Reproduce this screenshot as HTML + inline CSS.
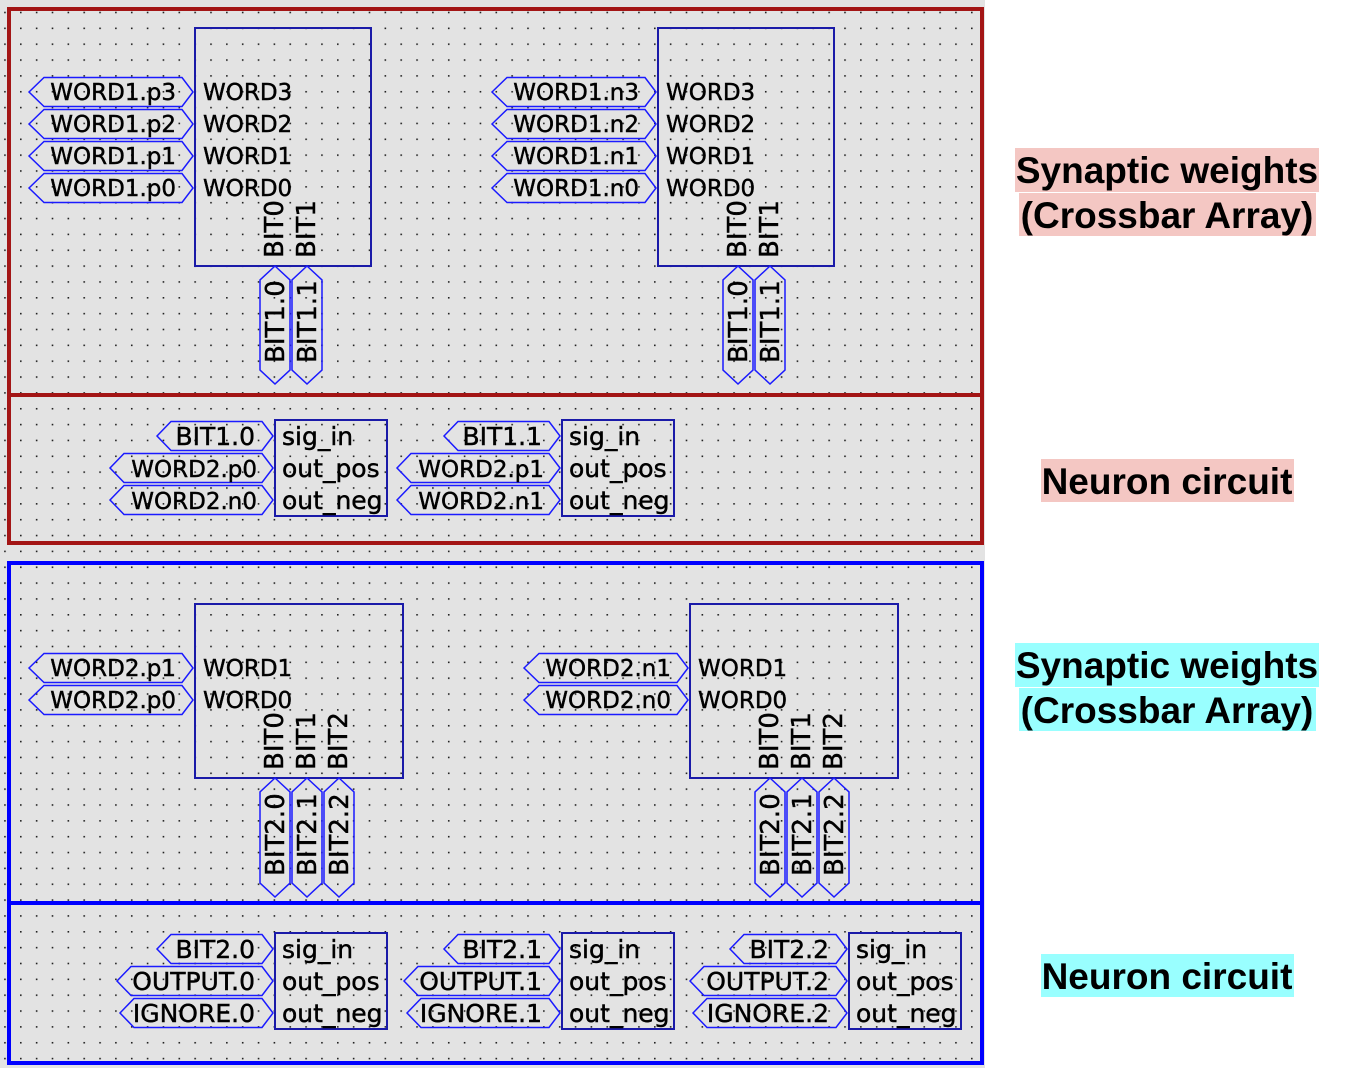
<!DOCTYPE html>
<html><head><meta charset="utf-8"><style>
html,body{margin:0;padding:0;background:#fff;}
svg{display:block;}
.t{font-family:"DejaVu Sans","Liberation Sans",sans-serif;font-size:23px;fill:#000;stroke:#000;stroke-width:0.45;}
.n{font-size:25px;}
.v{font-size:26px;}
.tag{fill:none;stroke:#1a1aff;stroke-width:1.5;}
.box{fill:none;stroke:#1a1aa8;stroke-width:2;}
.big{font-family:"Liberation Sans",Arial,sans-serif;font-weight:bold;font-size:37px;fill:#000;}
</style></head><body>
<svg width="1352" height="1068" viewBox="0 0 1352 1068" xmlns="http://www.w3.org/2000/svg">
<defs>
<pattern id="g" x="20" y="11.7" width="15.85" height="15.85" patternUnits="userSpaceOnUse">
<rect x="0" y="0" width="1.6" height="1.6" fill="#222"/>
</pattern>
</defs>
<rect x="0" y="0" width="985" height="1068" fill="#e3e3e3"/>
<rect x="0" y="0" width="985" height="1068" fill="url(#g)"/>

<rect x="9" y="9" width="973" height="534" fill="none" stroke="#a31515" stroke-width="4"/>
<line x1="9" y1="395" x2="982" y2="395" stroke="#a31515" stroke-width="4"/>
<rect x="9" y="563" width="973" height="500" fill="none" stroke="#0000ff" stroke-width="4"/>
<line x1="9" y1="903" x2="982" y2="903" stroke="#0000ff" stroke-width="4"/>

<!-- TOP LEFT crossbar -->
<rect class="box" x="195" y="28" width="176" height="238"/>
<polygon class="tag" points="29,92 44,77.5 182,77.5 193,92 182,106.5 44,106.5"/>
<polygon class="tag" points="29,124 44,109.5 182,109.5 193,124 182,138.5 44,138.5"/>
<polygon class="tag" points="29,156 44,141.5 182,141.5 193,156 182,170.5 44,170.5"/>
<polygon class="tag" points="29,188 44,173.5 182,173.5 193,188 182,202.5 44,202.5"/>
<text class="t" x="176" y="100" text-anchor="end">WORD1.p3</text>
<text class="t" x="176" y="132" text-anchor="end">WORD1.p2</text>
<text class="t" x="176" y="164" text-anchor="end">WORD1.p1</text>
<text class="t" x="176" y="196" text-anchor="end">WORD1.p0</text>
<text class="t" x="203" y="100">WORD3</text>
<text class="t" x="203" y="132">WORD2</text>
<text class="t" x="203" y="164">WORD1</text>
<text class="t" x="203" y="196">WORD0</text>
<text class="t v" transform="translate(283,258) rotate(-90)">BIT0</text>
<text class="t v" transform="translate(315,258) rotate(-90)">BIT1</text>
<polygon class="tag" points="275,266 290,280 290,370 275,384 260,370 260,280"/>
<polygon class="tag" points="307,266 322,280 322,370 307,384 292,370 292,280"/>
<text class="t v" transform="translate(284,363) rotate(-90)">BIT1.0</text>
<text class="t v" transform="translate(316,363) rotate(-90)">BIT1.1</text>

<!-- TOP RIGHT crossbar -->
<rect class="box" x="658" y="28" width="176" height="238"/>
<polygon class="tag" points="492,92 507,77.5 645,77.5 656,92 645,106.5 507,106.5"/>
<polygon class="tag" points="492,124 507,109.5 645,109.5 656,124 645,138.5 507,138.5"/>
<polygon class="tag" points="492,156 507,141.5 645,141.5 656,156 645,170.5 507,170.5"/>
<polygon class="tag" points="492,188 507,173.5 645,173.5 656,188 645,202.5 507,202.5"/>
<text class="t" x="639" y="100" text-anchor="end">WORD1.n3</text>
<text class="t" x="639" y="132" text-anchor="end">WORD1.n2</text>
<text class="t" x="639" y="164" text-anchor="end">WORD1.n1</text>
<text class="t" x="639" y="196" text-anchor="end">WORD1.n0</text>
<text class="t" x="666" y="100">WORD3</text>
<text class="t" x="666" y="132">WORD2</text>
<text class="t" x="666" y="164">WORD1</text>
<text class="t" x="666" y="196">WORD0</text>
<text class="t v" transform="translate(746,258) rotate(-90)">BIT0</text>
<text class="t v" transform="translate(778,258) rotate(-90)">BIT1</text>
<polygon class="tag" points="738,266 753,280 753,370 738,384 723,370 723,280"/>
<polygon class="tag" points="770,266 785,280 785,370 770,384 755,370 755,280"/>
<text class="t v" transform="translate(747,363) rotate(-90)">BIT1.0</text>
<text class="t v" transform="translate(779,363) rotate(-90)">BIT1.1</text>

<!-- NEURONS row 1 -->
<rect class="box" x="275" y="420" width="112" height="96"/>
<polygon class="tag" points="157,436 171,421.5 262,421.5 273,436 262,450.5 171,450.5"/>
<polygon class="tag" points="110,468 124,453.5 262,453.5 273,468 262,482.5 124,482.5"/>
<polygon class="tag" points="110,500 124,485.5 262,485.5 273,500 262,514.5 124,514.5"/>
<text class="t n" x="255" y="445" text-anchor="end">BIT1.0</text>
<text class="t" x="257" y="477" text-anchor="end">WORD2.p0</text>
<text class="t" x="257" y="509" text-anchor="end">WORD2.n0</text>
<text class="t n" x="282" y="445">sig_in</text>
<text class="t n" x="282" y="477">out_pos</text>
<text class="t n" x="282" y="509">out_neg</text>

<rect class="box" x="562" y="420" width="112" height="96"/>
<polygon class="tag" points="444,436 458,421.5 549,421.5 560,436 549,450.5 458,450.5"/>
<polygon class="tag" points="397,468 411,453.5 549,453.5 560,468 549,482.5 411,482.5"/>
<polygon class="tag" points="397,500 411,485.5 549,485.5 560,500 549,514.5 411,514.5"/>
<text class="t n" x="542" y="445" text-anchor="end">BIT1.1</text>
<text class="t" x="544" y="477" text-anchor="end">WORD2.p1</text>
<text class="t" x="544" y="509" text-anchor="end">WORD2.n1</text>
<text class="t n" x="569" y="445">sig_in</text>
<text class="t n" x="569" y="477">out_pos</text>
<text class="t n" x="569" y="509">out_neg</text>

<!-- BOTTOM LEFT crossbar -->
<rect class="box" x="195" y="604" width="208" height="174"/>
<polygon class="tag" points="29,668 44,653.5 182,653.5 193,668 182,682.5 44,682.5"/>
<polygon class="tag" points="29,700 44,685.5 182,685.5 193,700 182,714.5 44,714.5"/>
<text class="t" x="176" y="676" text-anchor="end">WORD2.p1</text>
<text class="t" x="176" y="708" text-anchor="end">WORD2.p0</text>
<text class="t" x="203" y="676">WORD1</text>
<text class="t" x="203" y="708">WORD0</text>
<text class="t v" transform="translate(283,770) rotate(-90)">BIT0</text>
<text class="t v" transform="translate(315,770) rotate(-90)">BIT1</text>
<text class="t v" transform="translate(347,770) rotate(-90)">BIT2</text>
<polygon class="tag" points="275,778 290,792 290,883 275,897 260,883 260,792"/>
<polygon class="tag" points="307,778 322,792 322,883 307,897 292,883 292,792"/>
<polygon class="tag" points="339,778 354,792 354,883 339,897 324,883 324,792"/>
<text class="t v" transform="translate(284,876) rotate(-90)">BIT2.0</text>
<text class="t v" transform="translate(316,876) rotate(-90)">BIT2.1</text>
<text class="t v" transform="translate(348,876) rotate(-90)">BIT2.2</text>

<!-- BOTTOM RIGHT crossbar -->
<rect class="box" x="690" y="604" width="208" height="174"/>
<polygon class="tag" points="524,668 539,653.5 677,653.5 688,668 677,682.5 539,682.5"/>
<polygon class="tag" points="524,700 539,685.5 677,685.5 688,700 677,714.5 539,714.5"/>
<text class="t" x="671" y="676" text-anchor="end">WORD2.n1</text>
<text class="t" x="671" y="708" text-anchor="end">WORD2.n0</text>
<text class="t" x="698" y="676">WORD1</text>
<text class="t" x="698" y="708">WORD0</text>
<text class="t v" transform="translate(778,770) rotate(-90)">BIT0</text>
<text class="t v" transform="translate(810,770) rotate(-90)">BIT1</text>
<text class="t v" transform="translate(842,770) rotate(-90)">BIT2</text>
<polygon class="tag" points="770,778 785,792 785,883 770,897 755,883 755,792"/>
<polygon class="tag" points="802,778 817,792 817,883 802,897 787,883 787,792"/>
<polygon class="tag" points="834,778 849,792 849,883 834,897 819,883 819,792"/>
<text class="t v" transform="translate(779,876) rotate(-90)">BIT2.0</text>
<text class="t v" transform="translate(811,876) rotate(-90)">BIT2.1</text>
<text class="t v" transform="translate(843,876) rotate(-90)">BIT2.2</text>

<!-- NEURONS row 2 -->
<rect class="box" x="275" y="933" width="112" height="96"/>
<polygon class="tag" points="157,949 171,934.5 262,934.5 273,949 262,963.5 171,963.5"/>
<polygon class="tag" points="117,981 131,966.5 262,966.5 273,981 262,995.5 131,995.5"/>
<polygon class="tag" points="120,1013 134,998.5 262,998.5 273,1013 262,1027.5 134,1027.5"/>
<text class="t n" x="255" y="958" text-anchor="end">BIT2.0</text>
<text class="t n" x="255" y="990" text-anchor="end">OUTPUT.0</text>
<text class="t n" x="255" y="1022" text-anchor="end">IGNORE.0</text>
<text class="t n" x="282" y="958">sig_in</text>
<text class="t n" x="282" y="990">out_pos</text>
<text class="t n" x="282" y="1022">out_neg</text>

<rect class="box" x="562" y="933" width="112" height="96"/>
<polygon class="tag" points="444,949 458,934.5 549,934.5 560,949 549,963.5 458,963.5"/>
<polygon class="tag" points="404,981 418,966.5 549,966.5 560,981 549,995.5 418,995.5"/>
<polygon class="tag" points="407,1013 421,998.5 549,998.5 560,1013 549,1027.5 421,1027.5"/>
<text class="t n" x="542" y="958" text-anchor="end">BIT2.1</text>
<text class="t n" x="542" y="990" text-anchor="end">OUTPUT.1</text>
<text class="t n" x="542" y="1022" text-anchor="end">IGNORE.1</text>
<text class="t n" x="569" y="958">sig_in</text>
<text class="t n" x="569" y="990">out_pos</text>
<text class="t n" x="569" y="1022">out_neg</text>

<rect class="box" x="849" y="933" width="112" height="96"/>
<polygon class="tag" points="730,949 744,934.5 836,934.5 847,949 836,963.5 744,963.5"/>
<polygon class="tag" points="690,981 704,966.5 836,966.5 847,981 836,995.5 704,995.5"/>
<polygon class="tag" points="693,1013 707,998.5 836,998.5 847,1013 836,1027.5 707,1027.5"/>
<text class="t n" x="829" y="958" text-anchor="end">BIT2.2</text>
<text class="t n" x="829" y="990" text-anchor="end">OUTPUT.2</text>
<text class="t n" x="829" y="1022" text-anchor="end">IGNORE.2</text>
<text class="t n" x="856" y="958">sig_in</text>
<text class="t n" x="856" y="990">out_pos</text>
<text class="t n" x="856" y="1022">out_neg</text>

<!-- Right-hand labels -->
<rect x="1015" y="148" width="304" height="44" fill="#f4c7c3"/>
<rect x="1019" y="193" width="297" height="43" fill="#f4c7c3"/>
<text class="big" x="1167" y="183" text-anchor="middle">Synaptic weights</text>
<text class="big" x="1167" y="228" text-anchor="middle">(Crossbar Array)</text>
<rect x="1041" y="459" width="253" height="43" fill="#f4c7c3"/>
<text class="big" x="1167" y="494" text-anchor="middle">Neuron circuit</text>

<rect x="1015" y="643" width="304" height="44" fill="#99ffff"/>
<rect x="1019" y="688" width="297" height="43" fill="#99ffff"/>
<text class="big" x="1167" y="678" text-anchor="middle">Synaptic weights</text>
<text class="big" x="1167" y="723" text-anchor="middle">(Crossbar Array)</text>
<rect x="1041" y="954" width="253" height="43" fill="#99ffff"/>
<text class="big" x="1167" y="989" text-anchor="middle">Neuron circuit</text>
</svg>
</body></html>
